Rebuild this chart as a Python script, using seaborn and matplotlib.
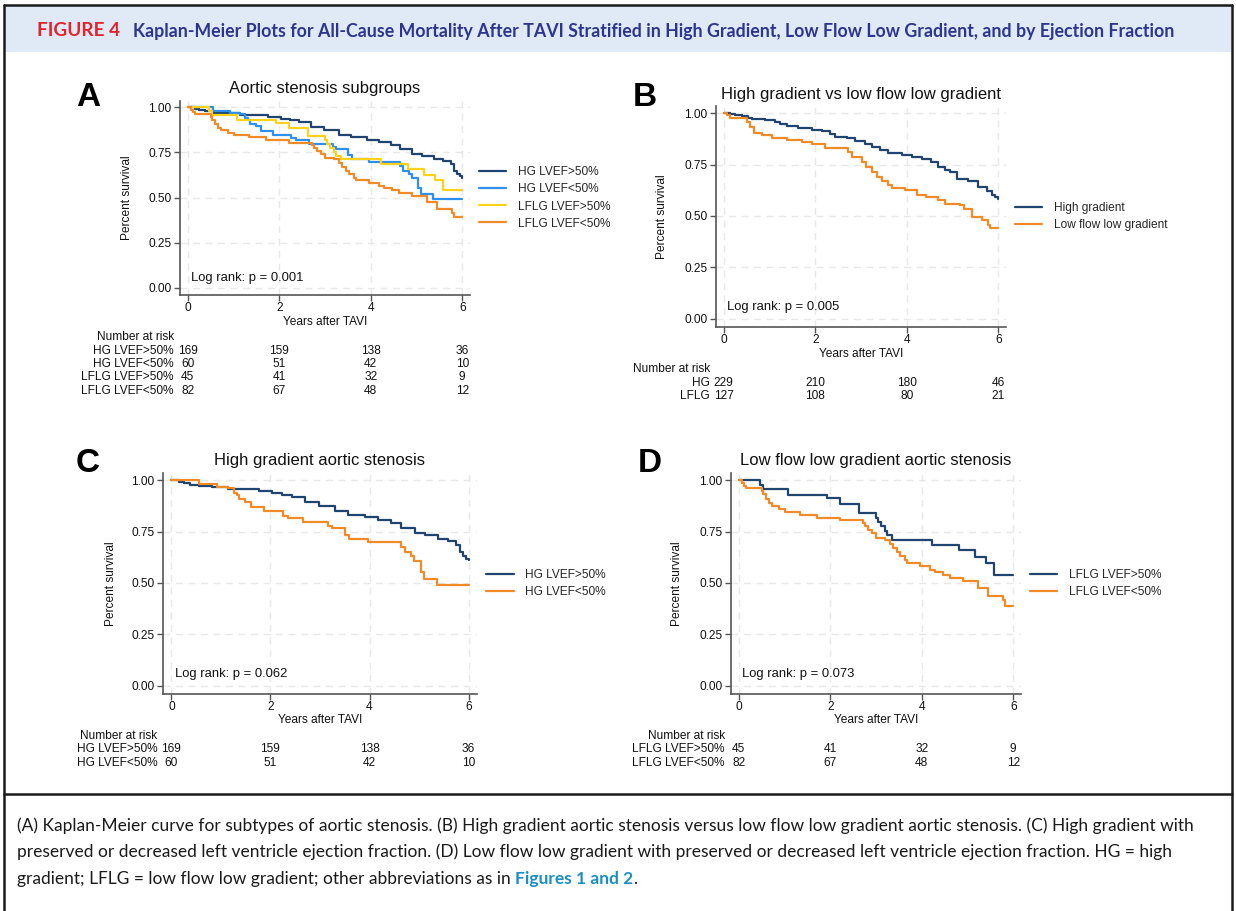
"""
plot.py
-------
Kaplan-Meier survival panels (A-D) after TAVI, with number-at-risk tables,
journal-style header band and caption box.
"""

import matplotlib
matplotlib.use("Agg")
import matplotlib.pyplot as plt
import matplotlib.transforms as mtransforms
from matplotlib.lines import Line2D
from matplotlib.patches import Rectangle
import pandas as pd
import seaborn as sns

# ── Data (step points: years, survival) ──────────────────────────────────────

YEARS = [0, 2, 4, 6]

HG_PRES_T = [0, 0.15, 0.25, 0.38, 0.55, 0.82, 1.15, 1.76, 2.03, 2.23, 2.43, 2.70,
             2.97, 3.30, 3.57, 3.91, 4.17, 4.44, 4.64, 4.91, 5.11, 5.38, 5.58,
             5.75, 5.82, 5.89, 5.95, 6.0]
HG_PRES_S = [1.0, 0.990, 0.984, 0.977, 0.971, 0.968, 0.959, 0.948, 0.938, 0.930,
             0.917, 0.893, 0.873, 0.849, 0.833, 0.820, 0.808, 0.792, 0.768, 0.744,
             0.731, 0.716, 0.703, 0.687, 0.649, 0.633, 0.617, 0.610]

HG_RED_T = [0, 0.55, 0.92, 1.15, 1.26, 1.32, 1.37, 1.49, 1.61, 1.86, 2.26, 2.36,
            2.66, 3.17, 3.24, 3.50, 3.58, 3.97, 4.64, 4.71, 4.83, 4.90, 5.03,
            5.10, 5.37, 6.0]
HG_RED_S = [1.0, 0.982, 0.968, 0.963, 0.940, 0.927, 0.907, 0.894, 0.869, 0.849,
            0.828, 0.817, 0.797, 0.779, 0.768, 0.735, 0.714, 0.698, 0.675, 0.649,
            0.630, 0.606, 0.552, 0.519, 0.492, 0.492]

LFLG_PRES_T = [0, 0.47, 0.54, 1.08, 1.92, 2.21, 2.63, 3.01, 3.05, 3.12, 3.19,
               3.24, 3.34, 4.23, 4.81, 5.16, 5.40, 5.59, 6.0]
LFLG_PRES_S = [1.0, 0.978, 0.955, 0.930, 0.911, 0.886, 0.841, 0.817, 0.795, 0.776,
               0.752, 0.732, 0.711, 0.687, 0.659, 0.627, 0.597, 0.541, 0.541]

LFLG_RED_T = [0, 0.065, 0.12, 0.16, 0.50, 0.54, 0.60, 0.65, 0.72, 0.87, 1.01,
              1.34, 1.70, 2.21, 2.72, 2.76, 2.83, 2.92, 3.01, 3.19, 3.30, 3.37,
              3.45, 3.53, 3.63, 3.67, 3.96, 4.17, 4.28, 4.47, 4.61, 4.90, 5.23,
              5.45, 5.78, 5.81, 6.0]
LFLG_RED_S = [1.0, 0.987, 0.974, 0.963, 0.948, 0.932, 0.907, 0.888, 0.873, 0.860,
              0.844, 0.833, 0.817, 0.804, 0.792, 0.776, 0.756, 0.744, 0.719, 0.711,
              0.690, 0.670, 0.649, 0.630, 0.610, 0.597, 0.581, 0.565, 0.552, 0.541,
              0.524, 0.508, 0.476, 0.435, 0.416, 0.390, 0.390]

HG_ALL_T = [0, 0.14, 0.25, 0.39, 0.54, 0.61, 0.90, 1.12, 1.23, 1.38, 1.63, 1.92,
            2.14, 2.32, 2.43, 2.69, 2.87, 3.09, 3.23, 3.41, 3.60, 3.89, 4.11,
            4.33, 4.54, 4.68, 4.84, 4.94, 5.09, 5.35, 5.56, 5.75, 5.86, 5.93,
            5.99, 6.0]
HG_ALL_S = [1.0, 0.997, 0.990, 0.985, 0.979, 0.971, 0.966, 0.958, 0.947, 0.938,
            0.929, 0.920, 0.912, 0.901, 0.885, 0.877, 0.864, 0.851, 0.836, 0.823,
            0.804, 0.795, 0.787, 0.779, 0.763, 0.739, 0.726, 0.714, 0.679, 0.669,
            0.641, 0.620, 0.604, 0.593, 0.584, 0.584]

LFLG_ALL_T = [0, 0.07, 0.14, 0.50, 0.58, 0.67, 0.83, 1.05, 1.38, 1.70, 1.92,
              2.21, 2.71, 2.80, 3.02, 3.12, 3.23, 3.34, 3.45, 3.60, 3.67, 3.96,
              4.22, 4.43, 4.69, 4.84, 5.16, 5.26, 5.42, 5.64, 5.78, 5.82, 6.0]
LFLG_ALL_S = [1.0, 0.990, 0.977, 0.958, 0.933, 0.904, 0.893, 0.877, 0.869, 0.860,
              0.852, 0.833, 0.812, 0.787, 0.763, 0.739, 0.714, 0.690, 0.669, 0.649,
              0.636, 0.625, 0.604, 0.592, 0.576, 0.560, 0.552, 0.536, 0.495, 0.479,
              0.455, 0.442, 0.442]

# number at risk at 0, 2, 4, 6 years
RISK_HG_PRES = [169, 159, 138, 36]
RISK_HG_RED = [60, 51, 42, 10]
RISK_LFLG_PRES = [45, 41, 32, 9]
RISK_LFLG_RED = [82, 67, 48, 12]
RISK_HG_ALL = [229, 210, 180, 46]
RISK_LFLG_ALL = [127, 108, 80, 21]

LOGRANK_P = {"A": "0.001", "B": "0.005", "C": "0.062", "D": "0.073"}

HEADER_TAG = "FIGURE 4"
HEADER_TITLE = ("Kaplan-Meier Plots for All-Cause Mortality After TAVI Stratified in "
                "High Gradient, Low Flow Low Gradient, and by Ejection Fraction")
CAPTION_LINES = [
    "(A) Kaplan-Meier curve for subtypes of aortic stenosis. (B) High gradient aortic "
    "stenosis versus low flow low gradient aortic stenosis. (C) High gradient with",
    "preserved or decreased left ventricle ejection fraction. (D) Low flow low gradient "
    "with preserved or decreased left ventricle ejection fraction. HG = high",
    "gradient; LFLG = low flow low gradient; other abbreviations as in ",
]
CAPTION_LINK = "Figures 1 and 2"

# ── Config ────────────────────────────────────────────────────────────────────

W, H, DPI = 1236, 911, 100

NAVY = "#1f4470"
ORANGE = "#f28a26"
BLUE = "#2e8ff0"
GOLD = "#ffd21a"
TEXT = "#111111"

sns.set_theme(style="white")
plt.rcParams["font.family"] = ["Liberation Sans", "DejaVu Sans"]

fig = plt.figure(figsize=(W / DPI, H / DPI), dpi=DPI)
fig.patch.set_facecolor("white")


def fx(x):
    return x / W


def fy(y):
    return 1 - y / H


def km_frame(curves):
    frames = []
    for name, (t, s) in curves.items():
        frames.append(pd.DataFrame({"group": name, "years": t, "surv": s}))
    return pd.concat(frames, ignore_index=True)


def fit_to_right(txt, right_px):
    """Scale a text's font size so that it ends at right_px."""
    renderer = fig.canvas.get_renderer()
    bb = txt.get_window_extent(renderer)
    txt.set_fontsize(txt.get_fontsize() * (right_px - bb.x0) / bb.width)


# ── Panels ────────────────────────────────────────────────────────────────────

def draw_panel(letter, title, box, curves, colors, legend_labels,
               risk_labels, risk_rows, risk_top, letter_xy, title_y,
               ylabel_x, xlabel_top):
    left, right, top, bottom = box
    ax = fig.add_axes([fx(left), fy(bottom), fx(right - left), (bottom - top) / H])

    df = km_frame(curves)
    sns.lineplot(data=df, x="years", y="surv", hue="group",
                 hue_order=list(curves.keys()), palette=colors,
                 estimator=None, drawstyle="steps-post", linewidth=1.6,
                 legend=False, ax=ax)

    ax.set_xlim(-0.17, 6.17)
    ax.set_ylim(-0.04, 1.035)
    ax.set_xticks(YEARS)
    ax.set_yticks([0, 0.25, 0.5, 0.75, 1.0])
    ax.set_yticklabels(["0.00", "0.25", "0.50", "0.75", "1.00"])
    ax.grid(True, color="#e8e8e8", linestyle=(0, (5, 4)), linewidth=1.0)
    for side in ("top", "right"):
        ax.spines[side].set_visible(False)
    for side in ("left", "bottom"):
        ax.spines[side].set_color("#555555")
        ax.spines[side].set_linewidth(1.2)
    ax.tick_params(axis="both", direction="out", length=4, width=1,
                   color="#555555", labelsize=8.6, labelcolor=TEXT, pad=2,
                   left=True, bottom=True)
    ax.tick_params(axis="x", pad=1)

    blend = mtransforms.blended_transform_factory
    ax.set_xlabel("Years after TAVI", fontsize=8.6, color=TEXT)
    ax.xaxis.set_label_coords(0.5, fy(xlabel_top), transform=blend(ax.transAxes, fig.transFigure))
    ax.set_ylabel("Percent survival", fontsize=8.6, color=TEXT)
    ax.yaxis.set_label_coords(fx(ylabel_x), 0.5, transform=blend(fig.transFigure, ax.transAxes))

    ax.set_title(title, fontsize=12, color=TEXT, pad=0,
                 y=1 + (top - title_y) / (bottom - top), va="center")
    fig.text(fx(letter_xy[0]), fy(letter_xy[1]), letter, fontsize=24,
             fontweight="bold", ha="center", va="center", color="black")

    ax.text(0.08, 0.055, f"Log rank: p = {LOGRANK_P[letter]}", fontsize=9.4,
            color=TEXT, ha="left", va="center")

    handles = [Line2D([], [], color=c, linewidth=1.6) for c in colors]
    ax.legend(handles, legend_labels, loc="center left", bbox_to_anchor=(1.03, 0.5),
              frameon=False, fontsize=8.6, handlelength=2.3, handletextpad=0.95,
              labelspacing=0.42, borderpad=0, borderaxespad=0)

    # number-at-risk table, columns centred on the year ticks
    data_fig = blend(ax.transData, fig.transFigure)
    label_tr = data_fig + mtransforms.ScaledTranslation(-14 / DPI, 0, fig.dpi_scale_trans)
    row_step = 13.5
    fig.text(0, fy(risk_top), "Number at risk", transform=label_tr, fontsize=8.6,
             ha="right", va="center", color=TEXT)
    for i, (lab, counts) in enumerate(zip(risk_labels, risk_rows)):
        y = fy(risk_top + (i + 1) * row_step)
        fig.text(0, y, lab, transform=label_tr, fontsize=8.6, ha="right",
                 va="center", color=TEXT)
        for yr, n in zip(YEARS, counts):
            fig.text(yr, y, str(n), transform=data_fig, fontsize=8.6,
                     ha="center", va="center", color=TEXT)
    return ax


four_curves = {
    "HG LVEF>50%": (HG_PRES_T, HG_PRES_S),
    "HG LVEF<50%": (HG_RED_T, HG_RED_S),
    "LFLG LVEF>50%": (LFLG_PRES_T, LFLG_PRES_S),
    "LFLG LVEF<50%": (LFLG_RED_T, LFLG_RED_S),
}
draw_panel("A", "Aortic stenosis subgroups", (180, 470, 101, 295), four_curves,
           [NAVY, BLUE, GOLD, ORANGE], list(four_curves.keys()),
           list(four_curves.keys()),
           [RISK_HG_PRES, RISK_HG_RED, RISK_LFLG_PRES, RISK_LFLG_RED],
           337, (88, 97), 88, 133, 316)

two_curves = {
    "High gradient": (HG_ALL_T, HG_ALL_S),
    "Low flow low gradient": (LFLG_ALL_T, LFLG_ALL_S),
}
draw_panel("B", "High gradient vs low flow low gradient", (716, 1006, 106, 327),
           two_curves, [NAVY, ORANGE], list(two_curves.keys()),
           ["HG", "LFLG"], [RISK_HG_ALL, RISK_LFLG_ALL],
           369, (645, 97), 94, 668, 348)

hg_curves = {
    "HG LVEF>50%": (HG_PRES_T, HG_PRES_S),
    "HG LVEF<50%": (HG_RED_T, HG_RED_S),
}
draw_panel("C", "High gradient aortic stenosis", (163, 477, 473, 694), hg_curves,
           [NAVY, ORANGE], list(hg_curves.keys()), list(hg_curves.keys()),
           [RISK_HG_PRES, RISK_HG_RED], 736, (88, 463), 461, 117, 714)

lflg_curves = {
    "LFLG LVEF>50%": (LFLG_PRES_T, LFLG_PRES_S),
    "LFLG LVEF<50%": (LFLG_RED_T, LFLG_RED_S),
}
draw_panel("D", "Low flow low gradient aortic stenosis", (731, 1021, 473, 694),
           lflg_curves, [NAVY, ORANGE], list(lflg_curves.keys()),
           list(lflg_curves.keys()), [RISK_LFLG_PRES, RISK_LFLG_RED],
           736, (650, 463), 461, 683, 714)

# ── Frame, header and caption ─────────────────────────────────────────────────

fig.add_artist(Rectangle((fx(5), fy(52)), fx(1226), (52 - 6) / H,
                         transform=fig.transFigure, facecolor="#dfeaf6",
                         edgecolor="none", zorder=0))
frame_kw = dict(transform=fig.transFigure, color="#1a1a1a", linewidth=1.8)
fig.add_artist(Line2D([fx(4), fx(1232)], [fy(5), fy(5)], **frame_kw))
fig.add_artist(Line2D([fx(4), fx(4)], [fy(5), fy(911)], **frame_kw))
fig.add_artist(Line2D([fx(1232), fx(1232)], [fy(5), fy(911)], **frame_kw))
fig.add_artist(Line2D([fx(4), fx(1232)], [fy(794), fy(794)], **frame_kw))

humanist = ["Lato", "DejaVu Sans"]
tag = fig.text(fx(37), fy(31), HEADER_TAG, color="#e3232c", fontsize=11,
               fontweight="bold", family=humanist, va="center", ha="left")
head = fig.text(fx(133), fy(31), HEADER_TITLE, color="#2d3590", fontsize=11,
                fontweight="bold", family=humanist, va="center", ha="left")

cap_kw = dict(fontsize=12, color="#1a1a1a", family=humanist, va="baseline", ha="left")
cap_texts = [fig.text(fx(17), fy(831 + i * 26.5), line, **cap_kw)
             for i, line in enumerate(CAPTION_LINES)]

fig.canvas.draw()
fit_to_right(tag, 120)
fit_to_right(head, 1167)
fit_to_right(cap_texts[0], 1192)
for t in cap_texts[1:]:
    t.set_fontsize(cap_texts[0].get_fontsize())
cap_kw["fontsize"] = cap_texts[0].get_fontsize()

fig.canvas.draw()
renderer = fig.canvas.get_renderer()
bb = cap_texts[-1].get_window_extent(renderer)
link = fig.text(bb.x1 / W, fy(831 + 2 * 26.5), CAPTION_LINK, color="#1b8ec4",
                fontweight="bold", **{k: v for k, v in cap_kw.items() if k != "color"})
bb2 = link.get_window_extent(renderer)
fig.text(bb2.x1 / W, fy(831 + 2 * 26.5), ".", **cap_kw)

fig.savefig("out.png", dpi=DPI, facecolor="white")
